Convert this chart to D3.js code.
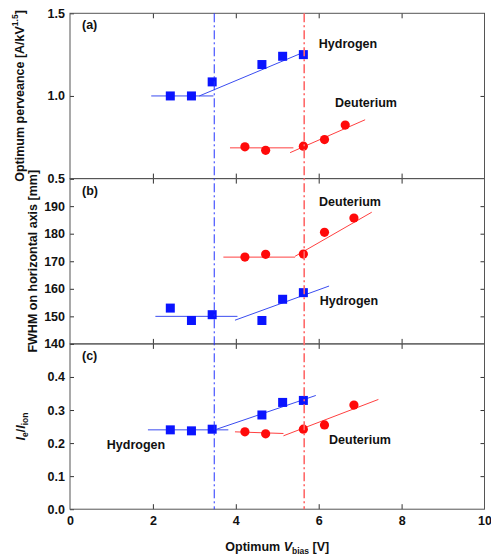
<!DOCTYPE html>
<html>
<head>
<meta charset="utf-8">
<script src="https://cdn.jsdelivr.net/npm/d3@7"></script>
<style>
  body { margin: 0; background: #fff; }
  text { font-family: "Liberation Sans", Arial, sans-serif; font-weight: bold; fill: #111; }
</style>
</head>
<body>
<svg id="chart" width="491" height="557"></svg>
<script>
// x axis
const xTicks = [0, 2, 4, 6, 8, 10];
const hydrogenV = [2.42, 2.93, 3.43, 4.63, 5.13, 5.63];
const deuteriumVa = [4.22, 4.72, 5.63, 6.14, 6.64];
const deuteriumV = [4.22, 4.72, 5.63, 6.14, 6.85];
const vbiasH = 3.48;
const vbiasD = 5.65;

// (a) perveance
const hPerv = [1.0, 1.0, 1.085, 1.19, 1.24, 1.25];
const dPerv = [0.692, 0.671, 0.696, 0.736, 0.824];
const hPervFit = [[[1.96, 1.0], [3.46, 1.0]], [[3.12, 1.0], [5.69, 1.27]]];
const dPervFit = [[[3.86, 0.686], [5.39, 0.686]], [[5.31, 0.657], [7.12, 0.856]]];
const pervTicks = [0.5, 1.0, 1.5];

// (b) FWHM
const hFwhm = [153.0, 148.5, 150.6, 148.5, 156.2, 158.6];
const dFwhm = [171.5, 172.5, 172.6, 180.5, 185.7];
const hFwhmFit = [[[2.06, 150.0], [4.04, 150.0]], [[3.98, 148.6], [6.25, 161.0]]];
const dFwhmFit = [[[3.70, 171.5], [5.43, 171.5]], [[5.43, 171.8], [7.28, 187.8]]];
const fwhmTicks = [140, 150, 160, 170, 180, 190, 200];

// (c) Ie/Iion
const hRatio = [0.240, 0.237, 0.242, 0.285, 0.323, 0.329];
const dRatio = [0.234, 0.228, 0.242, 0.255, 0.315];
const hRatioFit = [[[1.88, 0.240], [3.82, 0.240]], [[3.54, 0.242], [5.93, 0.344]]];
const dRatioFit = [[[3.98, 0.234], [5.15, 0.229]], [[5.15, 0.222], [7.44, 0.332]]];
const ratioTicks = [0, 0.1, 0.2, 0.3, 0.4, 0.5];

const blue = "#0a14ff", blueLine = "#3a4cf0";
const red = "#ff0a0a", redLine = "#ff4040";

const svg = d3.select("#chart");
const plotL = 70, plotR = 484.5, plotT = 13.3, panelH = 165.3;

const x = d3.scaleLinear().domain([0, 10]).range([plotL, plotR]);

const panels = [
  { id: "(a)", domain: [0.5, 1.5], ticks: pervTicks, labelled: pervTicks, fmt: d3.format(".1f"),
    h: hPerv, dV: deuteriumVa, d: dPerv, hFit: hPervFit, dFit: dPervFit,
    labels: [["Hydrogen", 348, 48], ["Deuterium", 366, 107]] },
  { id: "(b)", domain: [140, 200], ticks: fwhmTicks, labelled: fwhmTicks.slice(0, 6), fmt: d3.format("d"),
    h: hFwhm, dV: deuteriumV, d: dFwhm, hFit: hFwhmFit, dFit: dFwhmFit,
    labels: [["Deuterium", 350, 206], ["Hydrogen", 349, 305]] },
  { id: "(c)", domain: [0, 0.5], ticks: ratioTicks, labelled: ratioTicks.slice(0, 5), fmt: d3.format(".1f"),
    h: hRatio, dV: deuteriumV, d: dRatio, hFit: hRatioFit, dFit: dRatioFit,
    labels: [["Hydrogen", 136, 449], ["Deuterium", 360, 444]] }
];

panels.forEach((p, i) => {
  const y0 = plotT + i * panelH;
  const y = d3.scaleLinear().domain(p.domain).range([y0 + panelH, y0]);
  const g = svg.append("g");

  // inward ticks
  g.append("g").attr("transform", `translate(${plotL},0)`)
    .call(d3.axisLeft(y).tickValues(p.ticks).tickSize(-4).tickPadding(5)
      .tickFormat(d => p.labelled.includes(d) ? p.fmt(d) : ""))
    .call(a => a.select(".domain").remove())
    .call(a => a.selectAll("text").style("font-size", "12.5px").attr("fill", "#111"));
  g.append("g").attr("transform", `translate(${plotR},0)`)
    .call(d3.axisRight(y).tickValues(p.ticks.filter(t => t !== p.domain[0] && t !== p.domain[1])).tickSize(-4).tickFormat(""))
    .call(a => a.select(".domain").remove());
  g.append("g").attr("transform", `translate(0,${y0})`)
    .call(d3.axisTop(x).tickValues([2, 4, 6, 8]).tickSize(-5).tickFormat(""))
    .call(a => a.select(".domain").remove());
  const bottom = g.append("g").attr("transform", `translate(0,${y0 + panelH})`)
    .call(d3.axisBottom(x).tickValues(i === 2 ? xTicks : [2, 4, 6, 8]).tickSize(-5).tickPadding(7)
      .tickFormat(i === 2 ? d3.format("d") : ""))
    .call(a => a.select(".domain").remove())
    .call(a => a.selectAll("text").style("font-size", "12.5px").attr("fill", "#111"));
  bottom.selectAll(".tick line").filter(d => d === 0 || d === 10).remove();
  g.selectAll(".tick line").attr("stroke", "#333");

  // frame
  g.append("rect").attr("x", plotL).attr("y", y0).attr("width", plotR - plotL).attr("height", panelH)
    .attr("fill", "none").attr("stroke", "#555").attr("stroke-width", 1);

  const line = d3.line().x(d => x(d[0])).y(d => y(d[1]));
  p.hFit.forEach(seg => g.append("path").attr("d", line(seg)).attr("stroke", blueLine).attr("stroke-width", 1).attr("fill", "none"));
  p.dFit.forEach(seg => g.append("path").attr("d", line(seg)).attr("stroke", redLine).attr("stroke-width", 1).attr("fill", "none"));

  g.selectAll(".sq").data(p.h).enter().append("rect")
    .attr("x", (d, k) => x(hydrogenV[k]) - 4.5).attr("y", d => y(d) - 4.5)
    .attr("width", 9).attr("height", 9).attr("fill", blue);
  g.selectAll(".ci").data(p.d).enter().append("circle")
    .attr("cx", (d, k) => x(p.dV[k])).attr("cy", d => y(d)).attr("r", 4.6).attr("fill", red);

  g.append("text").attr("x", 82).attr("y", y0 + 16).style("font-size", "12.5px").text(p.id);
  p.labels.forEach(l => g.append("text").attr("x", l[1]).attr("y", l[2])
    .attr("text-anchor", "middle").style("font-size", "12.5px").text(l[0]));
});

// vertical bias lines
const yTop = plotT, yBot = plotT + 3 * panelH;
svg.append("line").attr("x1", x(vbiasH)).attr("x2", x(vbiasH)).attr("y1", yTop).attr("y2", yBot)
  .attr("stroke", "#2233ff").attr("stroke-width", 1).attr("stroke-dasharray", "9,3,2,3");
svg.append("line").attr("x1", x(vbiasD)).attr("x2", x(vbiasD)).attr("y1", yTop).attr("y2", yBot)
  .attr("stroke", "#ff6a6a").attr("stroke-width", 1.6).attr("stroke-dasharray", "9,3,2,3");

// axis titles
const t1 = svg.append("text").attr("transform", `translate(24,${plotT + panelH / 2}) rotate(-90)`)
  .attr("text-anchor", "middle").style("font-size", "12.5px");
t1.append("tspan").text("Optimum perveance [A/kV");
t1.append("tspan").attr("dy", -6).style("font-size", "8.5px").text("1.5");
t1.append("tspan").attr("dy", 6).text("]");

svg.append("text").attr("transform", `translate(37,${plotT + panelH * 1.5}) rotate(-90)`)
  .attr("text-anchor", "middle").style("font-size", "12.5px").text("FWHM on horizontal axis [mm]");

const t3 = svg.append("text").attr("transform", `translate(25,${plotT + panelH * 2.5}) rotate(-90)`)
  .attr("text-anchor", "middle").style("font-size", "12.5px");
t3.append("tspan").style("font-style", "italic").text("I");
t3.append("tspan").attr("dy", 3).style("font-size", "8.5px").text("e");
t3.append("tspan").attr("dy", -3).text("/");
t3.append("tspan").style("font-style", "italic").text("I");
t3.append("tspan").attr("dy", 3).style("font-size", "8.5px").text("ion");

const tx = svg.append("text").attr("x", (plotL + plotR) / 2).attr("y", 551)
  .attr("text-anchor", "middle").style("font-size", "12.5px");
tx.append("tspan").text("Optimum ");
tx.append("tspan").style("font-style", "italic").text("V");
tx.append("tspan").attr("dy", 3).style("font-size", "8.5px").text("bias");
tx.append("tspan").attr("dy", -3).text(" [V]");
</script>
</body>
</html>
